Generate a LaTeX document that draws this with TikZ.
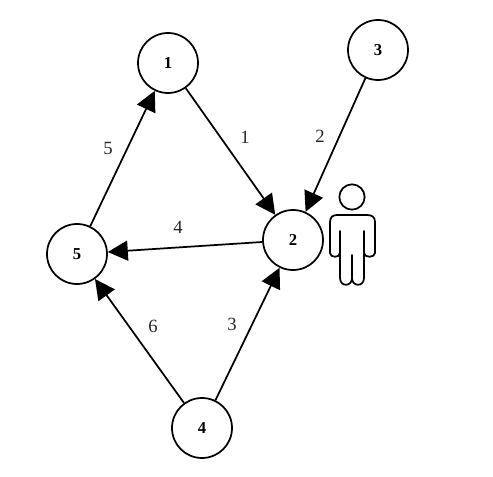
\documentclass[tikz,border=0pt]{standalone}
\usepackage{fontspec}
\setmainfont{Liberation Serif}
\usetikzlibrary{arrows.meta}
\tikzset{vertex/.style={circle,draw=black,line width=1.3pt,minimum size=45pt,inner sep=0pt,font=\bfseries\fontsize{12.5}{12.5}\selectfont},
edge/.style={line width=1.3pt,draw=black,-{Triangle[length=15pt,width=15pt]}},
lab/.style={font=\fontsize{14}{14}\selectfont,text=black!85,inner sep=0pt},
person/.style={line width=1.3pt,draw=black,line join=round,line cap=round}}
\begin{document}
\begin{tikzpicture}[x=0.75pt,y=-0.75pt]
\useasboundingbox (0,0) rectangle (493,477);
\node[vertex] (n1) at (168,63) {1};
\node[vertex] (n3) at (378,50) {3};
\node[vertex] (n2) at (293,240) {2};
\node[vertex] (n5) at (77,254) {5};
\node[vertex] (n4) at (202,428) {4};
\draw[edge] (n1) -- (n2);
\draw[edge] (n3) -- (n2);
\draw[edge] (n2) -- (n5);
\draw[edge] (n4) -- (n2);
\draw[edge] (n4) -- (n5);
\draw[edge] (n5) -- (n1);
\node[lab] (l1) at (245,137) {1};
\node[lab] (l2) at (320,136) {2};
\node[lab] (l3) at (232,324) {3};
\node[lab] (l4) at (178,227) {4};
\node[lab] (l5) at (108,148) {5};
\node[lab] (l6) at (153,326) {6};
\draw[person] (352,197) circle[radius=9.5pt];
\draw[person] (340,231) -- (340,253) .. controls (340,258) and (330,258) .. (330,253)
 -- (330,222) .. controls (330,217) and (333,215) .. (337,215)
 -- (367,215) .. controls (372,215) and (375,217) .. (375,222)
 -- (375,253) .. controls (375,258) and (364,258) .. (364,253) -- (364,231);
\draw[person] (340,250) -- (340,278) .. controls (340,287) and (352,287) .. (352,278) -- (352,255)
 (352,278) .. controls (352,287) and (364,287) .. (364,278) -- (364,250);
\end{tikzpicture}
\end{document}
